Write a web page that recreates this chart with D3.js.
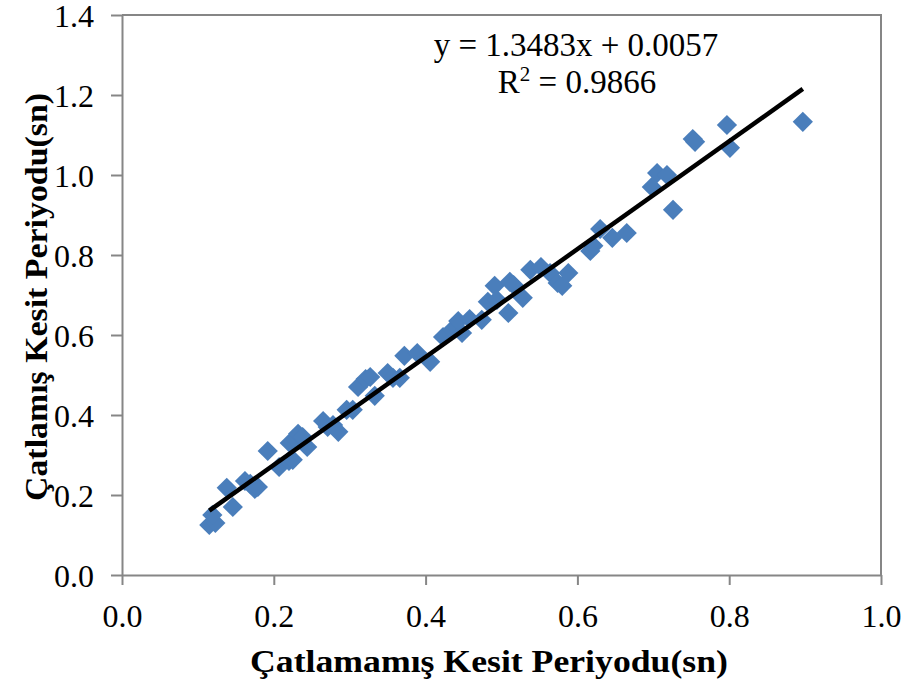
<!DOCTYPE html>
<html>
<head>
<meta charset="utf-8">
<script src="https://cdn.jsdelivr.net/npm/d3@7"></script>
<style>
  html, body { margin: 0; padding: 0; background: #ffffff; }
  svg { display: block; }
</style>
</head>
<body>
<svg id="chart" width="908" height="687"></svg>
<script>
// Uncracked vs cracked section period (seconds)
const uncrackedPeriod = [
  0.115, 0.123, 0.119, 0.138, 0.146, 0.162, 0.169, 0.175, 0.179, 0.192,
  0.207, 0.220, 0.225, 0.221, 0.229, 0.232, 0.238, 0.244, 0.265, 0.271,
  0.278, 0.285, 0.296, 0.304, 0.311, 0.321, 0.327, 0.333, 0.350, 0.357,
  0.366, 0.372, 0.389, 0.406, 0.423, 0.435, 0.443, 0.448, 0.458, 0.474,
  0.482, 0.491, 0.494, 0.509, 0.511, 0.516, 0.528, 0.538, 0.552, 0.564,
  0.574, 0.580, 0.588, 0.617, 0.621, 0.630, 0.646, 0.665, 0.698, 0.705,
  0.718, 0.726, 0.752, 0.755, 0.797, 0.801, 0.897
];
const crackedPeriod = [
  0.125, 0.130, 0.150, 0.218, 0.170, 0.235, 0.228, 0.215, 0.220, 0.310,
  0.270, 0.285, 0.288, 0.330, 0.338, 0.353, 0.345, 0.320, 0.385, 0.370,
  0.375, 0.358, 0.413, 0.413, 0.470, 0.490, 0.495, 0.448, 0.505, 0.493,
  0.493, 0.548, 0.555, 0.533, 0.595, 0.613, 0.635, 0.605, 0.640, 0.638,
  0.683, 0.723, 0.688, 0.655, 0.733, 0.725, 0.693, 0.763, 0.770, 0.755,
  0.730, 0.723, 0.755, 0.810, 0.823, 0.865, 0.843, 0.855, 0.970, 1.005,
  1.000, 0.913, 1.090, 1.083, 1.125, 1.068, 1.133
];

// Linear trend fitted to the series
const trendSlope = 1.3483;
const trendIntercept = 0.0057;
const rSquared = 0.9866;

const xTicks = [0.0, 0.2, 0.4, 0.6, 0.8, 1.0];
const yTicks = [0.0, 0.2, 0.4, 0.6, 0.8, 1.0, 1.2, 1.4];

const xTitle = "Çatlamamış Kesit Periyodu(sn)";
const yTitle = "Çatlamış Kesit Periyodu(sn)";

const points = uncrackedPeriod.map((x, i) => ({ x, y: crackedPeriod[i] }));

const svg = d3.select("#chart");
const plot = { left: 122, right: 881, top: 15, bottom: 575 };

const x = d3.scaleLinear().domain([0, 1]).range([plot.left, plot.right]);
const y = d3.scaleLinear().domain([0, 1.4]).range([plot.bottom, plot.top]);

const axisColor = "#868686";
const serif = "'Liberation Serif', 'Times New Roman', serif";

// Plot area frame (top and right edges)
svg.append("path")
  .attr("d", `M${plot.left},${plot.top}H${plot.right}V${plot.bottom}`)
  .attr("fill", "none")
  .attr("stroke", axisColor)
  .attr("stroke-width", 2);

// Axes
const xAxis = d3.axisBottom(x)
  .tickValues(xTicks)
  .tickFormat(d3.format(".1f"))
  .tickSizeInner(10)
  .tickSizeOuter(0)
  .tickPadding(19);

const yAxis = d3.axisLeft(y)
  .tickValues(yTicks)
  .tickFormat(d3.format(".1f"))
  .tickSizeInner(11)
  .tickSizeOuter(0)
  .tickPadding(17);

const gx = svg.append("g")
  .attr("transform", `translate(0,${plot.bottom})`)
  .call(xAxis);

const gy = svg.append("g")
  .attr("transform", `translate(${plot.left},0)`)
  .call(yAxis);

[gx, gy].forEach(g => {
  g.select(".domain").attr("stroke", axisColor).attr("stroke-width", 2);
  g.selectAll(".tick line").attr("stroke", axisColor).attr("stroke-width", 2);
  g.selectAll(".tick text")
    .attr("fill", "#000")
    .style("font-family", serif)
    .style("font-size", "32px");
});
gx.selectAll(".tick text").attr("dy", "0.71em");
gy.selectAll(".tick text").attr("dy", "0.35em");

// Data markers (diamonds)
const diamond = d3.symbol().type(d3.symbolSquare).size(205);
svg.append("g")
  .selectAll("path")
  .data(points)
  .join("path")
  .attr("d", diamond)
  .attr("transform", d => `translate(${x(d.x)},${y(d.y)}) rotate(45)`)
  .attr("fill", "#4a7ebb");

// Trend line over the data range
const xMin = d3.min(uncrackedPeriod);
const xMax = d3.max(uncrackedPeriod);
const trend = [xMin, xMax].map(v => ({ x: v, y: trendSlope * v + trendIntercept }));
svg.append("path")
  .datum(trend)
  .attr("d", d3.line().x(d => x(d.x)).y(d => y(d.y)))
  .attr("fill", "none")
  .attr("stroke", "#000")
  .attr("stroke-width", 4.5);

// Regression label
const eq = svg.append("text")
  .attr("text-anchor", "middle")
  .style("font-family", serif)
  .style("font-size", "33px")
  .attr("fill", "#000");
eq.append("tspan")
  .attr("x", 576).attr("y", 56)
  .text(`y = ${trendSlope.toFixed(4)}x + ${trendIntercept.toFixed(4)}`);
const r2 = eq.append("tspan").attr("x", 577).attr("y", 93);
r2.append("tspan").text("R");
r2.append("tspan").attr("dy", -12).style("font-size", "21px").text("2");
r2.append("tspan").attr("dy", 12).text(` = ${rSquared.toFixed(4)}`);

// Axis titles
svg.append("text")
  .attr("x", 489).attr("y", 672)
  .attr("text-anchor", "middle")
  .attr("textLength", 478)
  .attr("lengthAdjust", "spacingAndGlyphs")
  .style("font-family", serif)
  .style("font-weight", "bold")
  .style("font-size", "31px")
  .text(xTitle);

svg.append("text")
  .attr("transform", "translate(47,297) rotate(-90)")
  .attr("text-anchor", "middle")
  .attr("textLength", 408)
  .attr("lengthAdjust", "spacingAndGlyphs")
  .style("font-family", serif)
  .style("font-weight", "bold")
  .style("font-size", "31px")
  .text(yTitle);
</script>
</body>
</html>
